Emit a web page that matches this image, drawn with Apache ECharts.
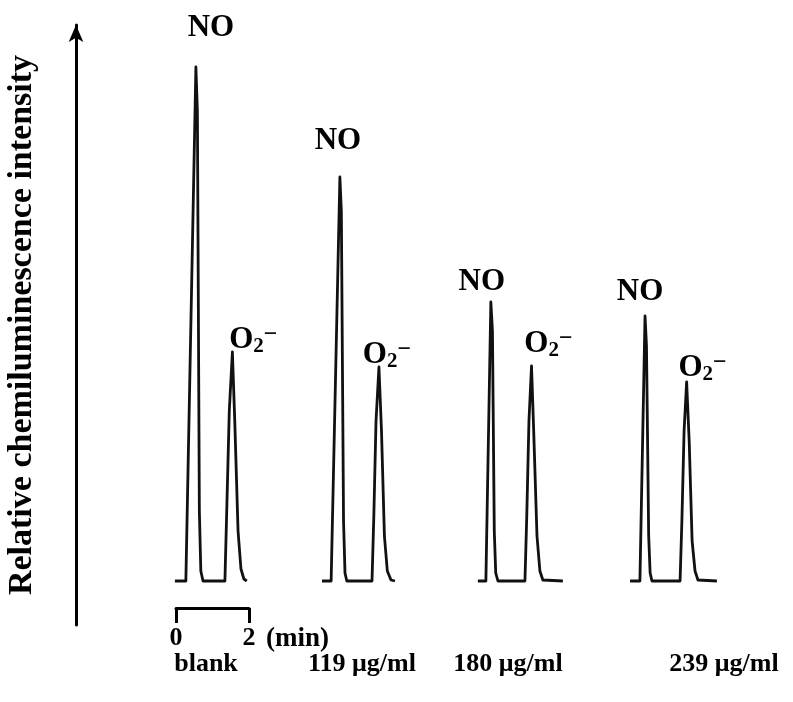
<!DOCTYPE html>
<html><head><meta charset="utf-8">
<script src="https://cdn.jsdelivr.net/npm/echarts@6/dist/echarts.min.js"></script>
<style>html,body{margin:0;padding:0;background:#fff}#c{width:793px;height:702px}</style>
</head><body><div id="c"></div>
<script>
// ---- data (time in minutes from trace start, intensity in relative units) ----
const traceNames = ['blank', '119 μg/ml', '180 μg/ml', '239 μg/ml'];
const traceStarts = [-0.03, 4.0, 8.27, 12.44];
const blankTrace = [[0,0],[0.30,0],[0.575,514],[0.616,470],[0.67,70],[0.71,10],[0.77,0],[1.37,0],[1.42,70],[1.49,170],[1.575,229],[1.64,160],[1.73,50],[1.81,12],[1.89,2],[1.97,0]];
const trace119 = [[0,0],[0.25,0],[0.49,404],[0.53,370],[0.59,60],[0.63,8],[0.68,0],[1.37,0],[1.42,65],[1.48,160],[1.56,214],[1.63,150],[1.71,45],[1.79,10],[1.89,1],[2.0,0]];
const trace180 = [[0,0],[0.22,0],[0.356,279],[0.40,250],[0.45,50],[0.49,8],[0.55,0],[1.29,0],[1.34,65],[1.40,160],[1.47,215],[1.53,150],[1.62,45],[1.70,10],[1.78,1],[2.33,0]];
const trace239 = [[0,0],[0.27,0],[0.41,265],[0.45,235],[0.51,45],[0.55,8],[0.60,0],[1.37,0],[1.42,60],[1.48,150],[1.55,199],[1.62,140],[1.70,40],[1.78,10],[1.86,1],[2.38,0]];
const traces = [blankTrace, trace119, trace180, trace239];
const peakNames = ['NO', 'O2-'];
const scaleTicks = [0, 2];
const scaleUnit = '(min)';

// ---- layout ----
const W = 793, H = 702;
const xMin = -2, xMax = 16;
const gridLeft = 103, gridRight = 33, gridTop = 25, gridBottom = 77;
const yMin = -44, yMax = 556;
const pxPerMin = (W - gridLeft - gridRight) / (xMax - xMin);
const noLabelOffsets = [[15,-39],[-2,-36],[-9,-20],[-5,-24]];
const o2LabelOffsets = [[21,-12],[8,-12],[17,-22],[16,-14]];
const bottomLabelX = [206, 362, 508, 724];
const serif = '"Liberation Serif","Times New Roman",serif';
const ink = '#111';

const chart = echarts.init(document.getElementById('c'), null, {renderer: 'canvas'});

function peakOf(arr, lo, hi) {
  let best = null;
  arr.forEach(p => { if (p[0] >= lo && p[0] < hi && (!best || p[1] > best[1])) best = p; });
  return best;
}

const series = traces.map((tr, i) => {
  const off = traceStarts[i];
  const data = tr.map(p => [p[0] + off, p[1]]);
  const no = peakOf(tr, 0, 1.0), o2 = peakOf(tr, 1.0, 10);
  return {
    type: 'line', name: traceNames[i], data: data,
    showSymbol: false, smooth: false, animation: false,
    lineStyle: {color: ink, width: 2.8, join: 'round'},
    markPoint: {
      symbol: 'circle', symbolSize: 1, itemStyle: {color: 'rgba(0,0,0,0)'},
      animation: false,
      data: [
        {coord: [no[0] + off, no[1]], label: {show: true, position: 'inside', offset: noLabelOffsets[i],
          formatter: peakNames[0], color: '#000', fontFamily: serif, fontWeight: 'bold', fontSize: 31}},
        {coord: [o2[0] + off, o2[1]], label: {show: true, position: 'inside', offset: o2LabelOffsets[i],
          formatter: '{o|O}{s|2}{m|\u2212}', color: '#000',
          rich: {
            o: {fontFamily: serif, fontWeight: 'bold', fontSize: 31, lineHeight: 34, color: '#000'},
            s: {fontFamily: serif, fontWeight: 'bold', fontSize: 21, lineHeight: 21, padding: [13,0,0,0], verticalAlign: 'bottom', color: '#000'},
            m: {fontFamily: serif, fontWeight: 'bold', fontSize: 24, lineHeight: 24, verticalAlign: 'top', padding: [0,0,10,0], color: '#000'}
          }}}
      ]
    }
  };
});

const option = {
  backgroundColor: '#fff',
  animation: false,
  grid: [
    {left: gridLeft, right: gridRight, top: gridTop, bottom: gridBottom, containLabel: false, outerBoundsMode: 'none'},
    {left: 176, width: pxPerMin * (scaleTicks[1] - scaleTicks[0]), top: 607, height: 1, containLabel: false, outerBoundsMode: 'none'}
  ],
  xAxis: [
    {type: 'value', min: xMin, max: xMax, show: false, gridIndex: 0},
    {type: 'value', gridIndex: 1, min: scaleTicks[0], max: scaleTicks[1], interval: scaleTicks[1] - scaleTicks[0],
     axisLine: {show: true, onZero: false, lineStyle: {color: '#000', width: 3}},
     axisTick: {show: true, length: 15, lineStyle: {color: '#000', width: 3}},
     axisLabel: {show: true, margin: 17, color: '#000', fontFamily: serif, fontWeight: 'bold', fontSize: 26},
     splitLine: {show: false}}
  ],
  yAxis: [
    {type: 'value', min: yMin, max: yMax, gridIndex: 0, offset: gridLeft - 76,
     axisLine: {show: true, onZero: false, symbol: ['none', 'arrow'], symbolSize: [11, 17], lineStyle: {color: '#000', width: 3}},
     axisTick: {show: false}, axisLabel: {show: false}, splitLine: {show: false},
     name: 'Relative chemiluminescence intensity', nameLocation: 'middle', nameGap: 37, nameRotate: 90,
     nameTextStyle: {color: '#000', fontFamily: serif, fontWeight: 'bold', fontSize: 34}},
    {type: 'value', gridIndex: 1, show: false}
  ],
  series: series,
  graphic: [
    {type: 'text', left: 266, top: 626, style: {text: scaleUnit, fill: '#000', font: 'bold 27px ' + serif}}
  ].concat(traceNames.map((n, i) => ({
    type: 'text', x: bottomLabelX[i], y: 664,
    style: {text: n, fill: '#000', font: 'bold 26px ' + serif, textAlign: 'center', textVerticalAlign: 'middle'}
  })))
};
chart.setOption(option);
</script></body></html>
